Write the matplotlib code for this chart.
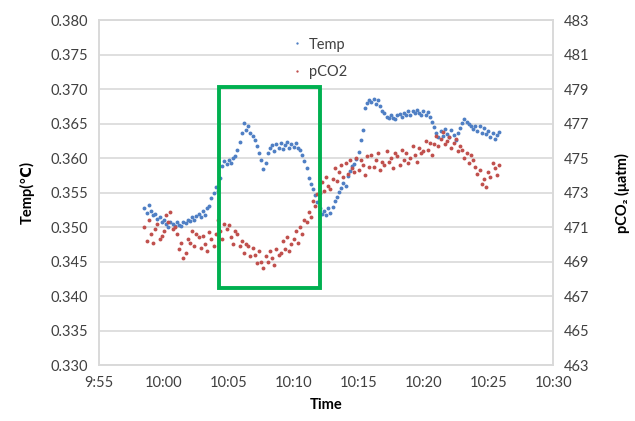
"""Temp and pCO2 logger readings vs time, twin y-axes, with the highlighted window."""

from datetime import datetime

import matplotlib
matplotlib.use("Agg")
import matplotlib.pyplot as plt
from matplotlib.patches import Rectangle
from matplotlib.ticker import FixedLocator, FuncFormatter

# logger samples: one reading every 10 s starting at 09:58:30
start = "09:58:30"
step_s = 10

temp = [
    0.3528, 0.3521, 0.3532,
    0.3524, 0.3517, 0.3519, 0.3512, 0.3515, 0.3508,
    0.3510, 0.3504, 0.3500, 0.3507, 0.3505, 0.3502,
    0.3507, 0.3503, 0.3501, 0.3508, 0.3506, 0.3510,
    0.3509, 0.3514, 0.3511, 0.3516, 0.3519, 0.3515,
    0.3523, 0.3517, 0.3527, 0.3531, 0.3542, 0.3549,
    0.3558, 0.3552, 0.3571, 0.3589, 0.3596, 0.3592,
    0.3598, 0.3593, 0.3600, 0.3603, 0.3612, 0.3624,
    0.3636, 0.3651, 0.3641, 0.3646, 0.3637, 0.3632,
    0.3627, 0.3617, 0.3608, 0.3597, 0.3584, 0.3593,
    0.3608, 0.3615, 0.3619, 0.3611, 0.3621, 0.3614,
    0.3622, 0.3613, 0.3619, 0.3623, 0.3615, 0.3620,
    0.3616, 0.3622, 0.3614, 0.3612, 0.3605, 0.3596,
    0.3585, 0.3571, 0.3562, 0.3555, 0.3546, 0.3536,
    0.3527, 0.3519, 0.3524, 0.3517, 0.3527, 0.3521,
    0.3529, 0.3538, 0.3544, 0.3551, 0.3557, 0.3564,
    0.3560, 0.3574, 0.3582, 0.3588, 0.3591, 0.3599,
    0.3609, 0.3626, 0.3641, 0.3672, 0.3680, 0.3685,
    0.3681, 0.3686, 0.3678, 0.3684, 0.3675, 0.3669,
    0.3666, 0.3660, 0.3658, 0.3663, 0.3658, 0.3657,
    0.3662, 0.3664, 0.3659, 0.3666, 0.3662, 0.3668,
    0.3663, 0.3669, 0.3665, 0.3670, 0.3665, 0.3663,
    0.3668, 0.3663, 0.3667, 0.3660, 0.3652, 0.3645,
    0.3637, 0.3630, 0.3640, 0.3632, 0.3642, 0.3635,
    0.3631, 0.3641, 0.3634, 0.3627, 0.3637, 0.3644,
    0.3651, 0.3657, 0.3652, 0.3649, 0.3647, 0.3642,
    0.3647, 0.3640, 0.3646, 0.3637, 0.3643, 0.3635,
    0.3640, 0.3631, 0.3636, 0.3628, 0.3634, 0.3638,
]

pco2 = [
    471.0, 470.2, 471.4,
    470.6, 470.1, 470.9, 471.2, 470.3, 470.5,
    470.8, 471.7, 471.3, 471.9, 470.9, 471.0,
    470.6, 469.7, 470.1, 469.2, 469.5, 470.3,
    470.1, 470.8, 469.9, 470.6, 470.4, 469.8,
    470.5, 470.0, 469.6, 470.7, 470.3, 469.9,
    470.6, 471.4, 470.8, 470.3, 471.2, 470.9,
    471.1, 470.4, 470.0, 470.8, 470.6, 469.9,
    470.2, 469.5, 470.0, 469.9, 469.3, 469.8,
    469.4, 468.9, 469.6, 469.0, 468.6, 469.3,
    469.0, 469.6, 469.2, 468.8, 469.7, 469.4,
    469.5, 470.2, 469.7, 470.4, 469.6, 470.0,
    470.3, 470.8, 470.1, 471.0, 470.6, 471.4,
    471.3, 471.9, 471.6, 472.5, 472.2, 472.9,
    473.0, 473.6, 473.1, 473.9, 473.4, 473.2,
    473.8, 474.4, 473.7, 474.2, 474.6, 473.9,
    474.7, 474.1, 474.9, 474.4, 474.2, 475.0,
    474.3, 474.9, 474.6, 474.0, 475.1, 474.5,
    475.2, 474.5, 474.9, 475.3, 474.3, 474.8,
    474.6, 475.4, 474.8, 475.0, 474.4, 475.3,
    475.1, 474.6, 475.5, 474.9, 475.3, 474.7,
    475.0, 475.7, 475.2, 474.8, 475.6, 475.3,
    475.4, 476.0, 475.5, 475.9, 475.2, 475.8,
    476.3, 475.7, 476.1, 476.5, 475.8, 476.0,
    476.2, 475.6, 475.9, 476.1, 475.4, 475.7,
    475.5, 475.0, 475.3, 474.7, 475.2, 474.9,
    474.5, 474.1, 474.3, 473.5, 473.8, 473.3,
    474.2, 473.9, 474.7, 474.4, 474.0, 474.6,
]

x_ticks = ["9:55", "10:00", "10:05", "10:10", "10:15", "10:20", "10:25", "10:30"]
temp_ticks = [0.330, 0.335, 0.340, 0.345, 0.350, 0.355, 0.360, 0.365, 0.370, 0.375, 0.380]
pco2_ticks = [463, 465, 467, 469, 471, 473, 475, 477, 479, 481, 483]


def to_min(hms: str) -> float:
    t = datetime.strptime(hms, "%H:%M:%S" if hms.count(":") == 2 else "%H:%M")
    return t.hour * 60 + t.minute + t.second / 60


def fmt_min(v, _pos=None):
    v = int(round(v))
    return f"{v // 60}:{v % 60:02d}"


t0 = to_min(start)
times = [t0 + i * step_s / 60 for i in range(len(temp))]
xt = [to_min(s) for s in x_ticks]

plt.rcParams["font.family"] = ["Lato", "DejaVu Sans"]
GRID = "#d9d9d9"
BLUE = "#4f7fc4"
RED = "#c0504d"

fig = plt.figure(figsize=(6.35, 4.21), dpi=100)
ax = fig.add_axes([0.156, 0.133, 0.715, 0.819])
ax2 = ax.twinx()

ax.plot(times, temp, ls="none", marker="o", ms=2.8, mew=0, color=BLUE, label="Temp")
ax2.plot(times, pco2, ls="none", marker="o", ms=2.8, mew=0, color=RED, label="pCO2")

ax.set_xlim(xt[0], xt[-1])
ax.xaxis.set_major_locator(FixedLocator(xt))
ax.xaxis.set_major_formatter(FuncFormatter(fmt_min))
ax.set_ylim(temp_ticks[0], temp_ticks[-1])
ax.set_yticks(temp_ticks, [f"{v:.3f}" for v in temp_ticks])
ax2.set_ylim(pco2_ticks[0], pco2_ticks[-1])
ax2.set_yticks(pco2_ticks, [str(v) for v in pco2_ticks])

ax.grid(axis="y", color=GRID, lw=1.2)
ax.set_axisbelow(True)
for a in (ax, ax2):
    a.tick_params(length=0, labelsize=10.5, colors="#404040", pad=8)
    for sp in a.spines.values():
        sp.set_color(GRID)
        sp.set_linewidth(1.2)

ax.set_xlabel("Time", fontsize=10.5, fontweight="bold", labelpad=6)
ax.set_ylabel("Temp(\u2103)", fontsize=10.5, fontweight="bold", labelpad=11)
ax2.set_ylabel("pCO\u2082 (\u03bcatm)", fontsize=10.5, fontweight="bold", labelpad=18)

# highlighted window (drawn over both series)
ax2.add_patch(Rectangle((to_min("10:04:13"), 0.3412), 7.85, 0.0291, transform=ax.transData,
                        fill=False, edgecolor="#00b050", lw=2.8, zorder=10))

h1, l1 = ax.get_legend_handles_labels()
h2, l2 = ax2.get_legend_handles_labels()
fig.legend(h1 + h2, l1 + l2, loc="upper left", bbox_to_anchor=(0.44, 0.942),
           frameon=False, fontsize=10.5, handlelength=0.6, handletextpad=0.5,
           labelspacing=0.95, markerscale=0.6, labelcolor="#404040")

fig.savefig("out.png", dpi=100)
